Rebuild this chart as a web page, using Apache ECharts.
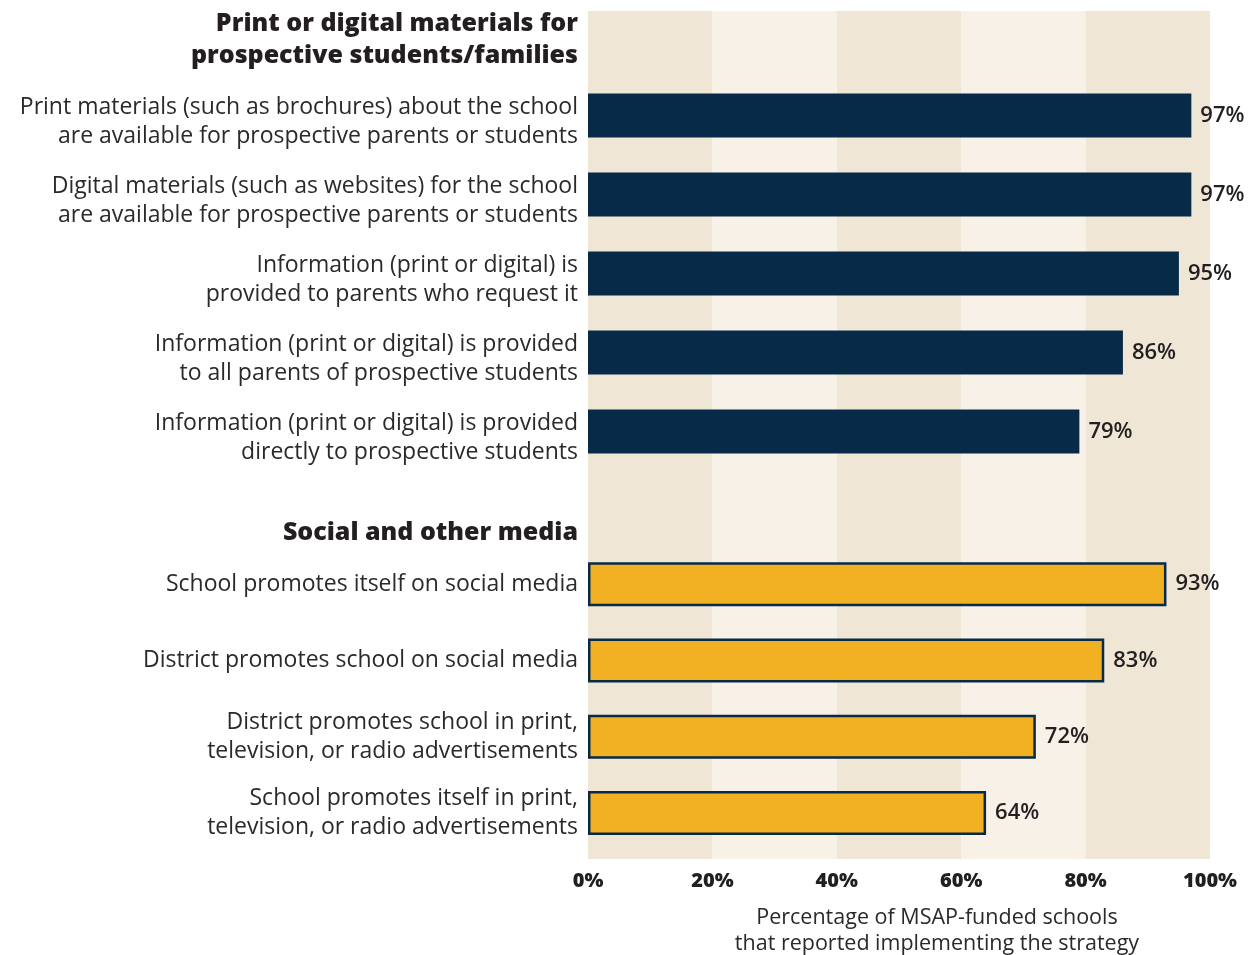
<!DOCTYPE html>
<html>
<head>
<meta charset="utf-8">
<script src="https://cdn.jsdelivr.net/npm/echarts@6/dist/echarts.min.js"></script>
<style>
  html, body { margin: 0; padding: 0; background: #fff; }
  #chart { width: 1249px; height: 955px; }
</style>
</head>
<body>
<div id="chart"></div>
<script>
// top group: print or digital materials
const printLabels = [
  "Print materials (such as brochures) about the school\nare available for prospective parents or students",
  "Digital materials (such as websites) for the school\nare available for prospective parents or students",
  "Information (print or digital) is\nprovided to parents who request it",
  "Information (print or digital) is provided\nto all parents of prospective students",
  "Information (print or digital) is provided\ndirectly to prospective students",
];
const printValues = [97, 97, 95, 86, 79];

// bottom group: social and other media
const mediaLabels = [
  "School promotes itself on social media",
  "District promotes school on social media",
  "District promotes school in print,\ntelevision, or radio advertisements",
  "School promotes itself in print,\ntelevision, or radio advertisements",
];
const mediaValues = [93, 83, 72, 64];

const groupTitles = [
  "Print or digital materials for\nprospective students/families",
  "Social and other media",
];
const axisTitle = "Percentage of MSAP-funded schools\nthat reported implementing the strategy";

const NAVY = "#062a48";
const GOLD = "#f2b023";
const INK = "#231f20";
const FONT = "'Open Sans'";

const chart = echarts.init(document.getElementById("chart"), null, { renderer: "canvas" });

const catAxis = (gridIndex, labels, showLabels) => ({
  type: "category",
  gridIndex,
  data: labels,
  inverse: true,
  axisLine: { show: false },
  axisTick: { show: false },
  axisLabel: {
    show: showLabels,
    margin: 10,
    color: "#2a2a2a",
    fontFamily: FONT,
    fontSize: 23,
    lineHeight: 29,
    align: "right",
  },
});

const hiddenValueAxis = (gridIndex) => ({
  type: "value",
  gridIndex,
  min: 0,
  max: 100,
  show: false,
});

const barLabel = {
  show: true,
  position: "right",
  distance: 9,
  formatter: "{c}%",
  color: INK,
  fontFamily: FONT,
  fontWeight: 600,
  fontSize: 22,
};

const option = {
  animation: false,
  backgroundColor: "#fff",
  grid: [
    { left: 588, right: 39, top: 11, bottom: 96, outerBoundsMode: "none" },
    { left: 588, right: 39, top: 76, height: 395, outerBoundsMode: "none" },
    { left: 588, right: 39, top: 546, height: 305, outerBoundsMode: "none" },
    // label rows of the top group sit a few pixels below their bars
    { left: 588, right: 39, top: 82, height: 395, outerBoundsMode: "none" },
  ],
  xAxis: [
    {
      type: "value",
      gridIndex: 0,
      min: 0,
      max: 100,
      interval: 20,
      axisLine: { show: false },
      axisTick: { show: false },
      splitLine: { show: false },
      splitArea: { show: true, areaStyle: { color: ["#efe6d5", "#f8f1e7"] } },
      axisLabel: {
        formatter: "{value}%",
        margin: 12,
        color: INK,
        fontFamily: FONT,
        fontWeight: 800,
        fontSize: 20,
      },
    },
    hiddenValueAxis(1),
    hiddenValueAxis(2),
    hiddenValueAxis(3),
  ],
  yAxis: [
    { type: "category", gridIndex: 0, data: [""], show: false },
    catAxis(1, printLabels, false),
    catAxis(2, mediaLabels, true),
    catAxis(3, printLabels, true),
  ],
  series: [
    {
      type: "bar",
      xAxisIndex: 1,
      yAxisIndex: 1,
      data: printValues,
      barWidth: 44,
      itemStyle: { color: NAVY },
      label: barLabel,
    },
    {
      type: "bar",
      xAxisIndex: 2,
      yAxisIndex: 2,
      data: mediaValues,
      barWidth: 44,
      itemStyle: { color: GOLD, borderColor: NAVY, borderWidth: 2.5 },
      label: barLabel,
    },
  ],
  graphic: [
    {
      type: "text",
      x: 578,
      y: 8,
      style: {
        text: groupTitles[0],
        align: "right",
        fill: INK,
        font: `800 25px ${FONT}`,
        lineHeight: 32,
      },
    },
    {
      type: "text",
      x: 578,
      y: 520,
      style: {
        text: groupTitles[1],
        align: "right",
        fill: INK,
        font: `800 25px ${FONT}`,
      },
    },
    {
      type: "text",
      x: 937,
      y: 905,
      style: {
        text: axisTitle,
        align: "center",
        fill: "#2a2a2a",
        font: `21.5px ${FONT}`,
        lineHeight: 26,
      },
    },
  ],
};

chart.setOption(option);
</script>
</body>
</html>
